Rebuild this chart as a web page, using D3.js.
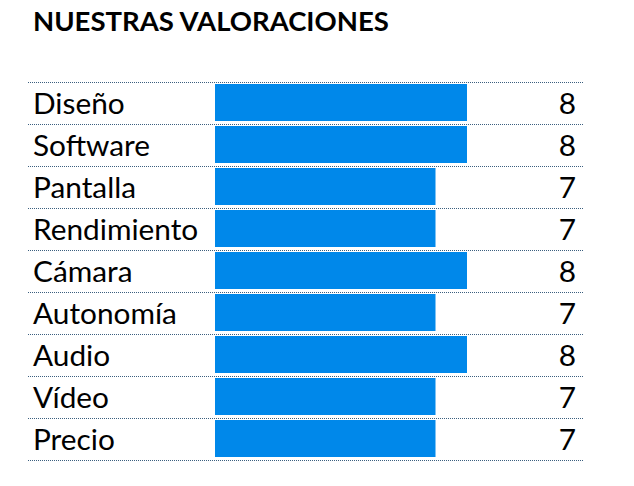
<!DOCTYPE html>
<html>
<head>
<meta charset="utf-8">
<script src="https://cdn.jsdelivr.net/npm/d3@7"></script>
<style>
  body { margin: 0; background: #fff; }
  text { font-family: Lato, "Open Sans", sans-serif; fill: #000; }
</style>
</head>
<body>
<div id="chart"></div>
<script>
const categories = ["Diseño", "Software", "Pantalla", "Rendimiento", "Cámara", "Autonomía", "Audio", "Vídeo", "Precio"];
const scores = [8, 8, 7, 7, 8, 7, 8, 7, 7];
const title = "NUESTRAS VALORACIONES";

const width = 634, height = 486;
const rowTop = 82, rowH = 42;
const lineX0 = 28, lineX1 = 583;
const barX = 215;

const svg = d3.select("#chart").append("svg")
  .attr("width", width)
  .attr("height", height);

svg.append("text")
  .attr("x", 33)
  .attr("y", 31)
  .style("font-size", "27.5px")
  .style("font-weight", "bold")
  .text(title);

const y = d3.scaleBand()
  .domain(categories)
  .range([rowTop, rowTop + rowH * categories.length]);

const x = d3.scaleLinear()
  .domain([0, 8])
  .range([0, 252]);

// dotted separators
const lines = d3.range(categories.length + 1).map(i => rowTop + i * y.step());
svg.selectAll(".sep")
  .data(lines)
  .enter()
  .append("line")
  .attr("class", "sep")
  .attr("x1", lineX0)
  .attr("x2", lineX1)
  .attr("y1", d => d + 0.5)
  .attr("y2", d => d + 0.5)
  .style("stroke", "#3b5f7f")
  .style("stroke-width", 1)
  .style("stroke-dasharray", "1,1");

const rows = svg.selectAll(".row")
  .data(categories)
  .enter()
  .append("g")
  .attr("class", "row")
  .attr("transform", d => `translate(0,${y(d)})`);

rows.append("rect")
  .attr("x", barX)
  .attr("y", 2)
  .attr("width", (d, i) => x(scores[i]))
  .attr("height", y.bandwidth() - 5)
  .style("fill", "#0088ea");

rows.append("text")
  .attr("class", "lbl")
  .attr("x", 33)
  .attr("y", 32)
  .style("font-size", "29.8px")
  .text(d => d);

rows.append("text")
  .attr("x", 576)
  .attr("y", 32)
  .attr("text-anchor", "end")
  .style("font-size", "29.8px")
  .text((d, i) => scores[i]);
</script>
</body>
</html>
